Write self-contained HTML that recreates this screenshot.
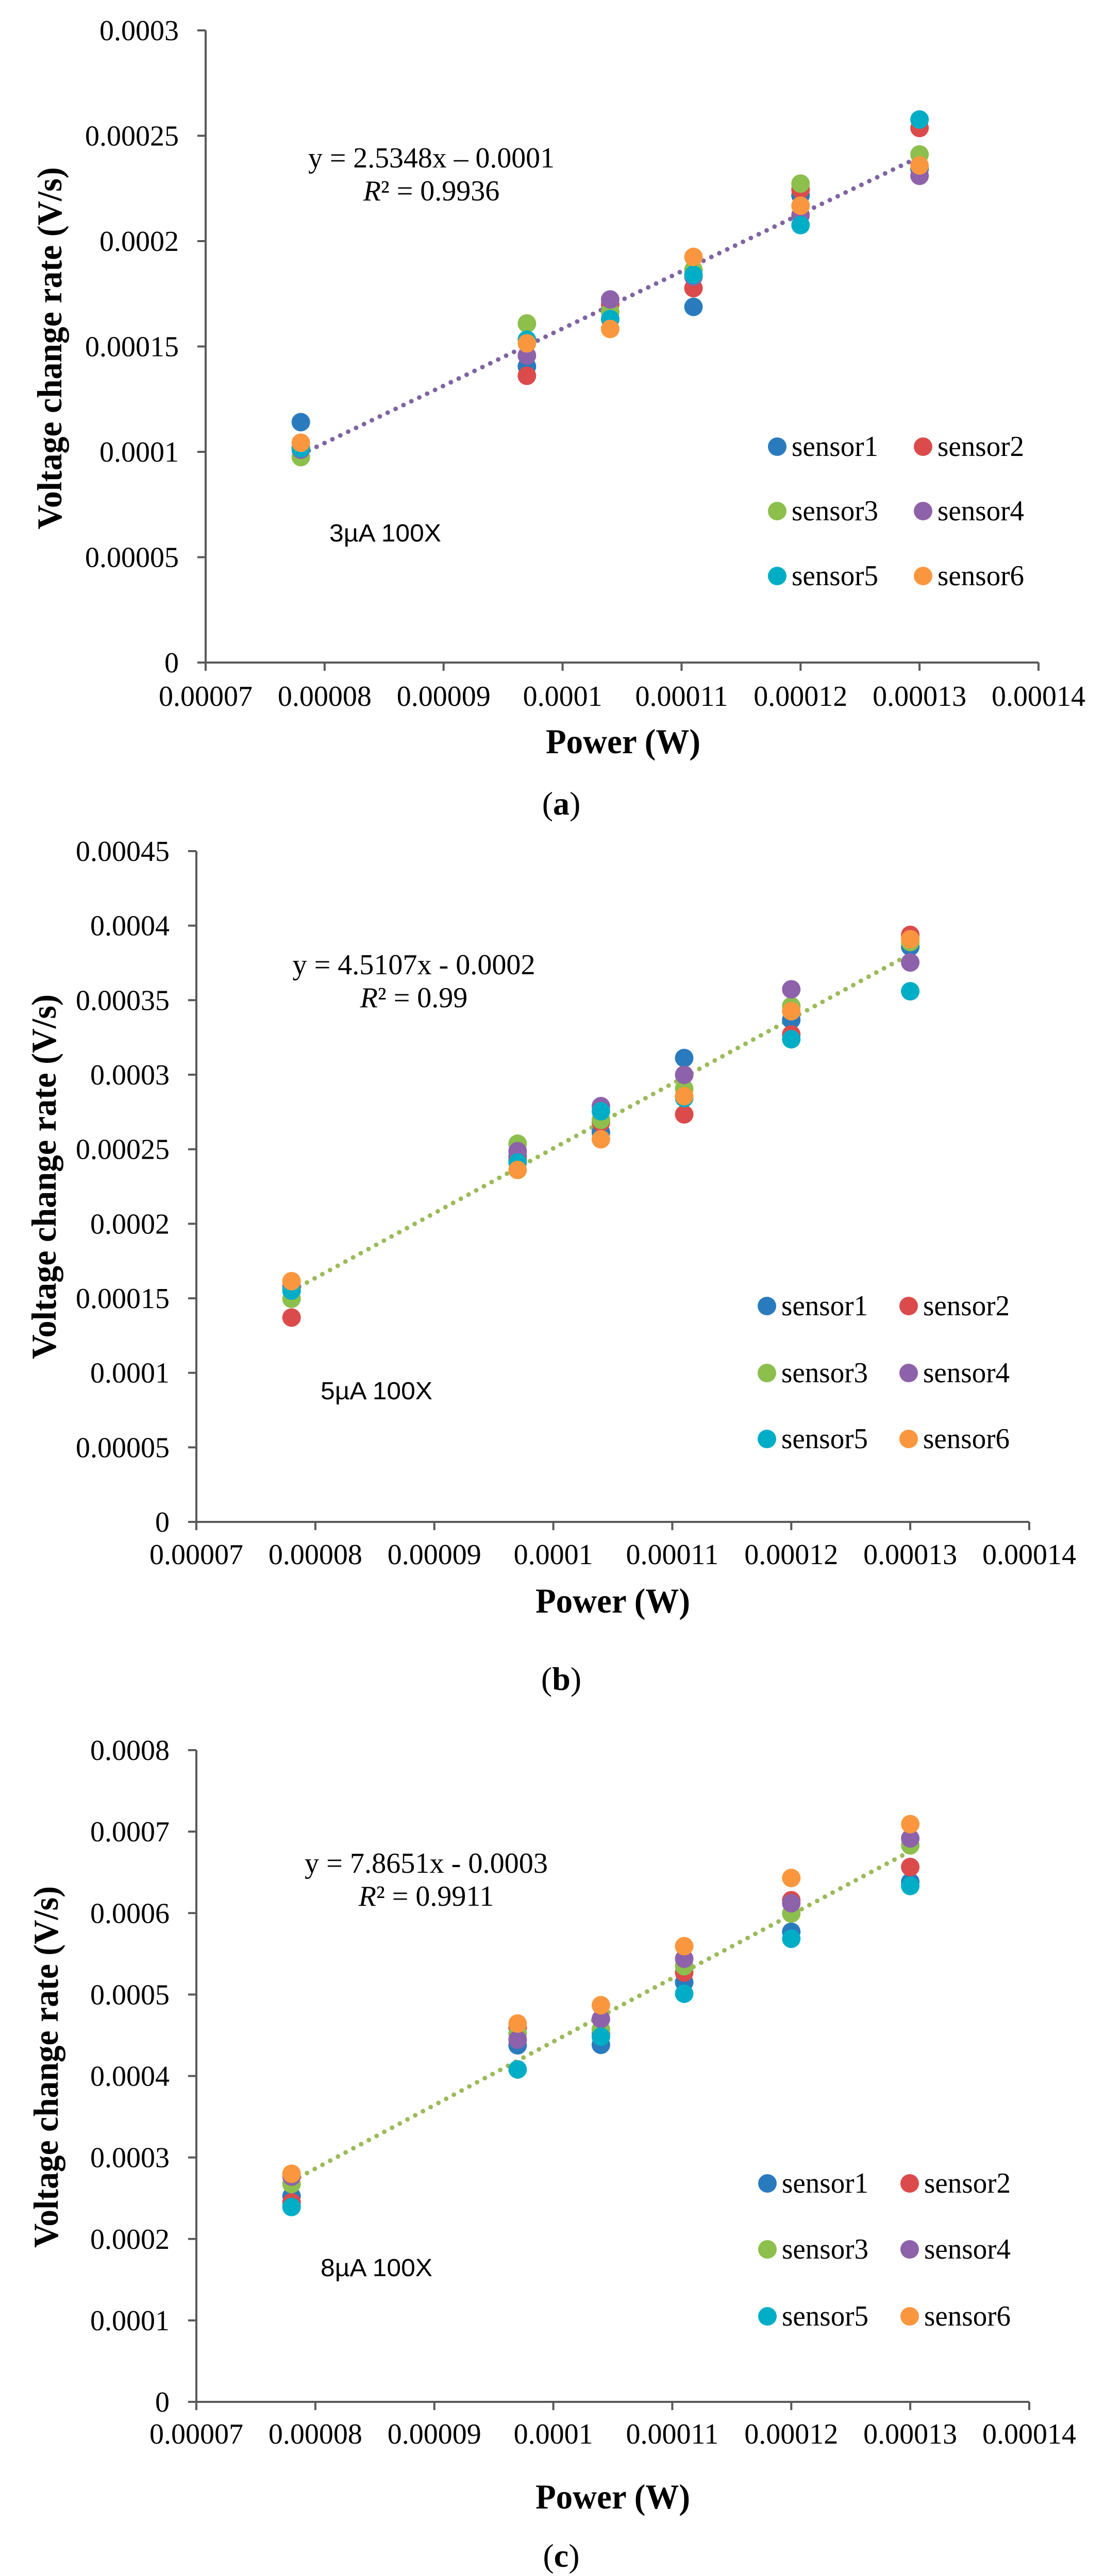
<!DOCTYPE html>
<html><head><meta charset="utf-8">
<style>
html,body{margin:0;padding:0;background:#fff;width:2144px;height:5041px;overflow:hidden;}
svg{display:block;}
</style></head>
<body>
<svg id="fig" width="2144" height="5041" viewBox="0 0 2144 5041" xmlns="http://www.w3.org/2000/svg"></svg>
<script>
// ---- shared data ----
const powerValues = [0.000078, 0.000097, 0.000104, 0.000111, 0.00012, 0.00013];
const xTickValues = [0.00007, 0.00008, 0.00009, 0.0001, 0.00011, 0.00012, 0.00013, 0.00014];
const xTickLabels = ["0.00007","0.00008","0.00009","0.0001","0.00011","0.00012","0.00013","0.00014"];
const sensorNames = ["sensor1","sensor2","sensor3","sensor4","sensor5","sensor6"];
const sensorColors = ["#2A7BBE","#DB4B4B","#8CBF4C","#8E62AA","#00ADC6","#FA973E"];

// ---- chart (a) 3uA ----
const aSensor1 = [0.0001141, 0.0001405, 0.000163, 0.0001688, 0.0002217, 0.0002343];
const aSensor2 = [0.000102, 0.0001361, 0.00017, 0.0001777, 0.0002245, 0.0002537];
const aSensor3 = [0.0000975, 0.0001609, 0.0001665, 0.0001864, 0.0002273, 0.0002411];
const aSensor4 = [0.000101, 0.0001457, 0.0001723, 0.0001831, 0.0002123, 0.000231];
const aSensor5 = [0.0001017, 0.0001532, 0.000163, 0.000184, 0.0002076, 0.0002577];
const aSensor6 = [0.0001043, 0.0001515, 0.0001583, 0.0001925, 0.0002168, 0.0002359];
const aYTickValues = [0, 0.00005, 0.0001, 0.00015, 0.0002, 0.00025, 0.0003];
const aYTickLabels = ["0","0.00005","0.0001","0.00015","0.0002","0.00025","0.0003"];

// ---- chart (b) 5uA ----
const bSensor1 = [0.000155, 0.000245, 0.0002613, 0.0003112, 0.0003368, 0.0003858];
const bSensor2 = [0.0001371, 0.000243, 0.000268, 0.0002734, 0.000327, 0.0003938];
const bSensor3 = [0.0001497, 0.0002537, 0.0002697, 0.0002906, 0.000346, 0.000389];
const bSensor4 = [0.000158, 0.0002487, 0.0002789, 0.0002999, 0.0003573, 0.0003753];
const bSensor5 = [0.0001552, 0.0002411, 0.0002755, 0.0002843, 0.0003238, 0.000356];
const bSensor6 = [0.0001615, 0.0002361, 0.0002567, 0.0002856, 0.0003426, 0.0003909];
const bYTickValues = [0, 0.00005, 0.0001, 0.00015, 0.0002, 0.00025, 0.0003, 0.00035, 0.0004, 0.00045];
const bYTickLabels = ["0","0.00005","0.0001","0.00015","0.0002","0.00025","0.0003","0.00035","0.0004","0.00045"];

// ---- chart (c) 8uA ----
const cSensor1 = [0.0002526, 0.0004377, 0.0004383, 0.000515, 0.000577, 0.0006382];
const cSensor2 = [0.0002449, 0.0004595, 0.000452, 0.000527, 0.0006157, 0.0006565];
const cSensor3 = [0.0002674, 0.000452, 0.0004573, 0.0005348, 0.0005995, 0.0006832];
const cSensor4 = [0.0002765, 0.0004447, 0.00047, 0.0005439, 0.0006121, 0.0006916];
const cSensor5 = [0.0002392, 0.0004081, 0.0004482, 0.000501, 0.0005685, 0.0006333];
const cSensor6 = [0.00028, 0.0004644, 0.0004869, 0.0005594, 0.0006431, 0.0007092];
const cYTickValues = [0, 0.0001, 0.0002, 0.0003, 0.0004, 0.0005, 0.0006, 0.0007, 0.0008];
const cYTickLabels = ["0","0.0001","0.0002","0.0003","0.0004","0.0005","0.0006","0.0007","0.0008"];

const NS = "http://www.w3.org/2000/svg";
const svg = document.getElementById("fig");
function mk(tag, attrs, parent){
  const e = document.createElementNS(NS, tag);
  for (const k in attrs) e.setAttribute(k, attrs[k]);
  (parent||svg).appendChild(e);
  return e;
}
const SERIF = '"Liberation Serif", "DejaVu Serif", serif';
const SANS = '"Liberation Sans", "DejaVu Sans", sans-serif';

function drawChart(cfg){
  const g = mk("g", {});
  
  
  const xMin = 0.00007, xMax = 0.00014;
  const yMax = cfg.yTicks[cfg.yTicks.length-1];
  const X = v => cfg.xL + (v - xMin) / (xMax - xMin) * (cfg.xR - cfg.xL);
  const Y = v => cfg.y0 - v / yMax * (cfg.y0 - cfg.yTop);
  const axisCol = "#595959";

  const ya = mk("line", {x1:cfg.xL, y1:cfg.yTop, x2:cfg.xL, y2:cfg.y0, stroke:axisCol, "stroke-width":4}, g);
  
  
  const xa = mk("line", {x1:cfg.xL-16, y1:cfg.y0, x2:cfg.xR, y2:cfg.y0, stroke:axisCol, "stroke-width":4}, g);
  
  

  cfg.yTicks.forEach((v,i)=>{
    const yy = Y(v);
    const t = mk("line", {x1:cfg.xL-16, y1:yy, x2:cfg.xL, y2:yy, stroke:axisCol, "stroke-width":4}, g);
    
    
    const l = mk("text", {x:cfg.xL-52, y:yy+19, "text-anchor":"end", "font-family":SERIF, "font-size":56, fill:"#000"}, g);
    l.textContent = cfg.yLabels[i];
    
    
  });
  xTickValues.forEach((v,i)=>{
    const xx = X(v);
    const t = mk("line", {x1:xx, y1:cfg.y0, x2:xx, y2:cfg.y0+16, stroke:axisCol, "stroke-width":4}, g);
    
    
    const l = mk("text", {x:xx, y:cfg.y0+cfg.xLabOff, "text-anchor":"middle", "font-family":SERIF, "font-size":56, fill:"#000"}, g);
    l.textContent = xTickLabels[i];
    
    
  });

  const xt = mk("text", {x:cfg.powerX, y:cfg.powerY, "text-anchor":"middle", "font-family":SERIF, "font-size":68, "font-weight":"bold", textLength:300, lengthAdjust:"spacingAndGlyphs"}, g);
  xt.textContent = "Power (W)";
  
  
  const yt = mk("text", {x:0, y:0, "text-anchor":"middle", "font-family":SERIF, "font-size":68, "font-weight":"bold", textLength:cfg.yTitleLen, lengthAdjust:"spacingAndGlyphs", transform:`translate(${cfg.yTitleX+23},${cfg.yTitleY}) rotate(-90)`}, g);
  yt.textContent = "Voltage change rate (V/s)";
  
  

  let sx=0, sy=0, sxx=0, sxy=0, n=0;
  cfg.series.forEach(s=>s.forEach((v,i)=>{const x=powerValues[i]; sx+=x; sy+=v; sxx+=x*x; sxy+=x*v; n++;}));
  const slope = (n*sxy - sx*sy)/(n*sxx - sx*sx);
  const icpt = (sy - slope*sx)/n;
  const x1 = powerValues[0], x2 = powerValues[powerValues.length-1];
  const tl = mk("line", {x1:X(x1), y1:Y(slope*x1+icpt), x2:X(x2), y2:Y(slope*x2+icpt), stroke:cfg.trendColor, "stroke-width":9, "stroke-linecap":"round", "stroke-dasharray":"0 17"}, g);
  
  

  cfg.series.forEach((s,si)=>{
    s.forEach((v,i)=>{
      const c = mk("circle", {cx:X(powerValues[i]), cy:Y(v), r:18, fill:sensorColors[si]}, g);
      
      
    });
  });

  const eq = mk("text", {x:cfg.eqX, y:cfg.eqY, "text-anchor":"middle", "font-family":SERIF, "font-size":56, textLength:cfg.eqLen, lengthAdjust:"spacingAndGlyphs"}, g);
  eq.textContent = cfg.eqText;
  
  
  const r2 = mk("text", {x:cfg.eqX, y:cfg.eqY+64, "text-anchor":"middle", "font-family":SERIF, "font-size":56}, g);
  const ri = mk("tspan", {"font-style":"italic"}, r2); ri.textContent = "R";
  const rs = mk("tspan", {}, r2); rs.textContent = "² = " + cfg.r2Text;
  
  

  const cl = mk("text", {x:cfg.condX, y:cfg.condY+17, "font-family":SANS, "font-size":48, textLength:217, lengthAdjust:"spacingAndGlyphs"}, g);
  cl.textContent = cfg.condText;
  
  

  sensorNames.forEach((nm,si)=>{
    const col = si % 2, row = Math.floor(si/2);
    const mx = cfg.legX[col], my = cfg.legY[row];
    const lg = mk("g", {}, g);
    
    
    mk("circle", {cx:mx, cy:my, r:18, fill:sensorColors[si]}, lg);
    const t = mk("text", {x:mx+28, y:my+18, "font-family":SERIF, "font-size":56, textLength:168, lengthAdjust:"spacingAndGlyphs"}, lg);
    t.textContent = nm;
  });

  const cap = mk("text", {x:1089, y:cfg.capY+20, "text-anchor":"middle", "font-family":SERIF, "font-size":64}, svg);
  const c1 = mk("tspan", {}, cap); c1.textContent = "(";
  const c2 = mk("tspan", {"font-weight":"bold"}, cap); c2.textContent = cfg.capLetter;
  const c3 = mk("tspan", {}, cap); c3.textContent = ")";
  
  
}

drawChart({id:"a", xL:399, xR:2015, yTop:59, y0:1286, yTicks:aYTickValues, yLabels:aYTickLabels,
  series:[aSensor1,aSensor2,aSensor3,aSensor4,aSensor5,aSensor6], trendColor:"#8064A2",
  xLabOff:84, powerX:1209, powerY:1462, yTitleX:96, yTitleY:676, yTitleLen:703,
  eqX:837, eqY:325, eqLen:478, eqText:"y = 2.5348x – 0.0001", r2Text:"0.9936",
  condX:639, condY:1034, condText:"3µA 100X",
  legX:[1508,1791], legY:[867,992,1118], capY:1561, capLetter:"a"});

drawChart({id:"b", xL:381, xR:1997, yTop:1652, y0:2954, yTicks:bYTickValues, yLabels:bYTickLabels,
  series:[bSensor1,bSensor2,bSensor3,bSensor4,bSensor5,bSensor6], trendColor:"#9BBB59",
  xLabOff:82, powerX:1189, powerY:3130, yTitleX:85, yTitleY:2284, yTitleLen:708,
  eqX:803, eqY:1891, eqLen:471, eqText:"y = 4.5107x - 0.0002", r2Text:"0.99",
  condX:622, condY:2699, condText:"5µA 100X",
  legX:[1488,1763], legY:[2535,2665,2793], capY:3260, capLetter:"b"});

drawChart({id:"c", xL:381, xR:1997, yTop:3397, y0:4662, yTicks:cYTickValues, yLabels:cYTickLabels,
  series:[cSensor1,cSensor2,cSensor3,cSensor4,cSensor5,cSensor6], trendColor:"#9BBB59",
  xLabOff:81, powerX:1189, powerY:4869, yTitleX:89, yTitleY:4012, yTitleLen:702,
  eqX:827, eqY:3635, eqLen:472, eqText:"y = 7.8651x - 0.0003", r2Text:"0.9911",
  condX:622, condY:4401, condText:"8µA 100X",
  legX:[1489,1765], legY:[4238,4366,4496], capY:4962, capLetter:"c"});
</script>
</body></html>
